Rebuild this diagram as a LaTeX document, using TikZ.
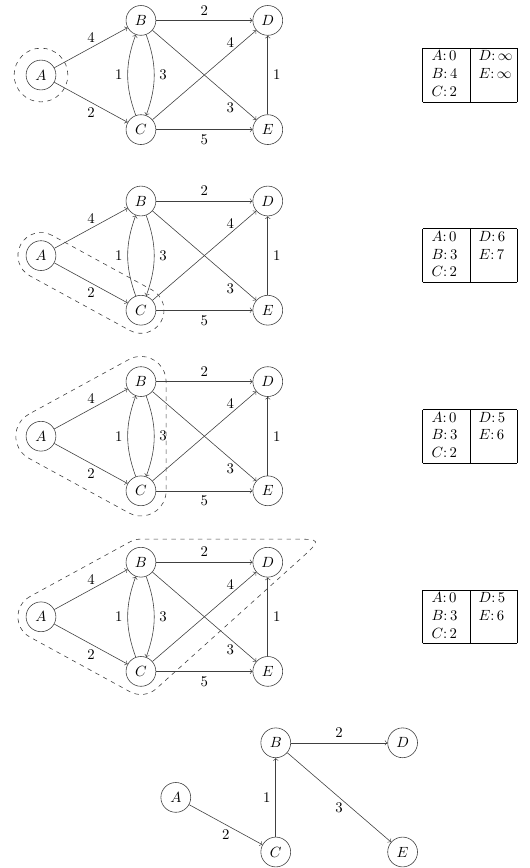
\documentclass[tikz,border=0pt]{standalone}
\usetikzlibrary{calc}
\tikzset{
  dj node/.style={
    circle, draw=black!75, minimum size=7.1mm, inner sep=0pt
  },
  dj arrow/.style={
    ->, draw=black!75
  },
  dj region/.style={
    dashed, draw=black!75
  },
  dj table/.style={
    inner sep=0pt
  }
}

\begin{document}
\begin{tikzpicture}
  \useasboundingbox (-0.976,1.786) rectangle (11.643,-18.881);
  % Rows 1-4: graph with the current distance table
  \foreach \r/\y/\bv/\dv/\ev in {1/0/4/\infty/\infty, 2/-4.3/3/6/7, 3/-8.6/3/5/6, 4/-12.9/3/5/6} {
    \begin{scope}[shift={(0,\y)}]
      \node (A\r) [dj node] at (0,0) {$A$};
      \node (B\r) [dj node] at (2.38,1.3) {$B$};
      \node (C\r) [dj node] at (2.38,-1.3) {$C$};
      \node (D\r) [dj node] at (5.4,1.3) {$D$};
      \node (E\r) [dj node] at (5.4,-1.3) {$E$};
      \node (T\r) [dj table] at (10.21,0) {%
        \begin{tabular}{|p{7mm}|p{7mm}|}
          \hline
          $A\colon 0$ & $D\colon \dv$ \\
          $B\colon \bv$ & $E\colon \ev$ \\
          $C\colon 2$ & \\
          \hline
        \end{tabular}};

      \draw [dj arrow] (A\r) -- node[above] {4} (B\r);
      \draw [dj arrow] (A\r) -- node[below] {2} (C\r);
      \draw [dj arrow] (B\r) -- node[above] {2} (D\r);
      \draw [dj arrow] (C\r) to[bend left=20] node[left] {1} (B\r);
      \draw [dj arrow] (B\r) to[bend left=20] node[right] {3} (C\r);
      \draw [dj arrow] (B\r) -- node[pos=0.75, below] {3} (E\r);
      \draw [dj arrow] (C\r) -- node[pos=0.75, above] {4} (D\r);
      \draw [dj arrow] (C\r) -- node[below] {5} (E\r);
      \draw [dj arrow] (E\r) -- node[right] {1} (D\r);
    \end{scope}
  }

  % Visited sets
  \draw [dj region] (A1) circle [radius=0.64];
  \draw [dj region] ($(A2)+(61.4:0.55)$) arc [start angle=61.4, end angle=241.4, radius=0.55]
    -- ($(C2)+(241.4:0.55)$) arc [start angle=241.4, end angle=421.4, radius=0.55] -- cycle;
  \draw [dj region] ($(A3)+(118.6:0.6)$) arc [start angle=118.6, end angle=241.4, radius=0.6]
    -- ($(C3)+(241.4:0.6)$) arc [start angle=241.4, end angle=360, radius=0.6]
    -- ($(B3)+(0:0.6)$) arc [start angle=0, end angle=118.6, radius=0.6] -- cycle;
  \draw [dj region] ($(A4)+(118.6:0.55)$) arc [start angle=118.6, end angle=241.4, radius=0.55]
    -- ($(C4)+(241.4:0.55)$) arc [start angle=241.4, end angle=312, radius=0.55]
    -- ($(A4)+(6.143,1.348)$) .. controls ($(A4)+(6.70,1.85)$) .. ($(A4)+(5.95,1.85)$)
    -- ($(B4)+(90:0.55)$) arc [start angle=90, end angle=118.6, radius=0.55] -- cycle;

  % Row 5: shortest path tree
  \begin{scope}[shift={(3.21,-17.2)}]
    \node (A5) [dj node] at (0,0) {$A$};
    \node (B5) [dj node] at (2.38,1.3) {$B$};
    \node (C5) [dj node] at (2.38,-1.3) {$C$};
    \node (D5) [dj node] at (5.4,1.3) {$D$};
    \node (E5) [dj node] at (5.4,-1.3) {$E$};

    \draw [dj arrow] (A5) -- node[below] {2} (C5);
    \draw [dj arrow] (C5) -- node[left] {1} (B5);
    \draw [dj arrow] (B5) -- node[above] {2} (D5);
    \draw [dj arrow] (B5) -- node[below] {3} (E5);
  \end{scope}
\end{tikzpicture}
\end{document}
